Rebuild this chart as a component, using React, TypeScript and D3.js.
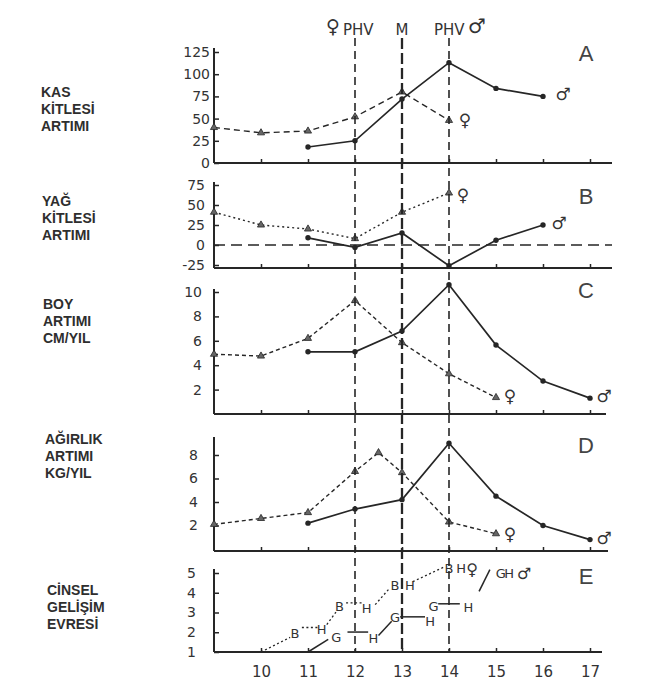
import * as d3 from 'd3';
import { useEffect, useRef } from 'react';

const WIDTH = 671;
const HEIGHT = 698;
const AXIS_X = 214;

// yaş ekseni
const AGE_DOMAIN = [9, 17];
const X_TICKS = [10, 11, 12, 13, 14, 15, 16, 17];
const MARK_AGES = [12, 13, 14]; // ♀ PHV, M, PHV ♂

// A - kas kitlesi artımı
const girlAgesA = [9, 10, 11, 12, 13, 14];
const girlMuscle = [40, 34, 36, 52, 80, 48];
const boyAgesA = [11, 12, 13, 14, 15, 16];
const boyMuscle = [18, 25, 72, 113, 84, 75];

// B - yağ kitlesi artımı
const girlAgesB = [9, 10, 11, 12, 13, 14];
const girlFat = [41, 25, 20, 8, 41, 65];
const boyAgesB = [11, 12, 13, 14, 15, 16];
const boyFat = [9, -3, 15, -26, 6, 25];

// C - boy artımı cm/yıl
const girlAgesC = [9, 10, 11, 12, 13, 14, 15];
const girlHeight = [4.9, 4.75, 6.2, 9.3, 5.85, 3.3, 1.35];
const boyAgesC = [11, 12, 13, 14, 15, 16, 17];
const boyHeight = [5.1, 5.1, 6.8, 10.6, 5.65, 2.7, 1.3];

// D - ağırlık artımı kg/yıl
const girlAgesD = [9, 10, 11, 12, 12.5, 13, 14, 15];
const girlWeight = [2.1, 2.6, 3.1, 6.6, 8.2, 6.5, 2.3, 1.3];
const boyAgesD = [11, 12, 13, 14, 15, 16, 17];
const boyWeight = [2.2, 3.4, 4.2, 9.0, 4.5, 2.0, 0.8];

// E - cinsel gelişim evresi
const girlStageLetters = ['B', 'H', 'B', 'H', 'B', 'H', 'B', 'H'];
const girlStageAges = [10.72, 11.29, 11.67, 12.25, 12.85, 13.17, 14.0, 14.26];
const girlStageLevels = [1.95, 2.15, 3.3, 3.2, 4.4, 4.4, 5.25, 5.25];
const girlStageLinks = [
  [[10, 1], [10.62, 1.74]],
  [[10.87, 2.24], [11.2, 2.24]],
  [[11.4, 2.39], [11.61, 3.07]],
  [[11.81, 3.49], [12.19, 3.49]],
  [[12.43, 3.4], [12.74, 4.24]],
  [[13.23, 4.56], [13.91, 5.32]],
];
const boyStageLetters = ['G', 'H', 'G', 'H', 'G', 'H', 'G', 'H'];
const boyStageAges = [11.6, 12.39, 12.85, 13.6, 13.67, 14.41, 15.1, 15.28];
const boyStageLevels = [1.73, 1.68, 2.78, 2.56, 3.32, 3.24, 5.0, 5.0];
const boyStageLinks = [
  [[11, 1], [11.43, 1.64]],
  [[11.84, 2.01], [12.28, 2.01]],
  [[12.5, 1.84], [12.78, 2.56]],
  [[12.96, 2.78], [13.49, 2.78]],
  [[13.77, 3.44], [14.23, 3.44]],
  [[14.64, 4.07], [14.87, 5.17]],
];

const INK = '#262626';
const NUM_FONT = '"DejaVu Sans", sans-serif';

const PANELS = [
  {
    id: 'A', title: ['KAS', 'KİTLESİ', 'ARTIMI'], titleX: 41, titleY: 97,
    domain: [0, 125], range: [163, 52], ticks: [0, 25, 50, 75, 100, 125],
    top: 48, bottom: 163, right: 612, pad: 4, letterY: 61, dash: '6,4',
    girl: [girlAgesA, girlMuscle], boy: [boyAgesA, boyMuscle],
    girlSign: [16, 6], boySign: [20, 4],
  },
  {
    id: 'B', title: ['YAĞ', 'KİTLESİ', 'ARTIMI'], titleX: 42, titleY: 206,
    domain: [-25, 75], range: [265, 185], ticks: [-25, 0, 25, 50, 75],
    top: 182, bottom: 268, right: 612, pad: 9, letterY: 204, dash: '2,3',
    girl: [girlAgesB, girlFat], boy: [boyAgesB, boyFat],
    girlSign: [14, 8], boySign: [16, 4], zeroLine: true,
  },
  {
    id: 'C', title: ['BOY', 'ARTIMI', 'CM/YIL'], titleX: 43, titleY: 309,
    domain: [0, 10], range: [414, 292], ticks: [2, 4, 6, 8, 10],
    top: 289, bottom: 414, right: 606, pad: 12, letterY: 298, dash: '4,3',
    girl: [girlAgesC, girlHeight], boy: [boyAgesC, boyHeight],
    girlSign: [14, 4], boySign: [14, 4],
  },
  {
    id: 'D', title: ['AĞIRLIK', 'ARTIMI', 'KG/YIL'], titleX: 45, titleY: 444,
    domain: [0, 8], range: [549, 455], ticks: [2, 4, 6, 8],
    top: 437, bottom: 551, right: 608, pad: 16, letterY: 453, dash: '4,3',
    girl: [girlAgesD, girlWeight], boy: [boyAgesD, boyWeight],
    girlSign: [14, 6], boySign: [14, 4],
  },
];

const ScurveChart = () => {
  const svgRef = useRef<SVGSVGElement>(null);

  useEffect(() => {
    const svg = d3.select(svgRef.current);
    svg.selectAll('*').remove();

    const x = d3.scaleLinear().domain(AGE_DOMAIN).range([AXIS_X, 590]);

    const drawAxes = (g, y, p, withLabels) => {
      const yAxis = d3.axisLeft(y).tickValues(p.ticks).tickSizeInner(-5).tickSizeOuter(0).tickPadding(p.pad)
        .tickFormat(d => String(d));
      const gy = g.append('g').attr('transform', `translate(${AXIS_X},0)`).call(yAxis);
      gy.select('.domain').remove();
      gy.selectAll('line').attr('stroke', INK).attr('stroke-width', 1.5);
      gy.selectAll('text').attr('font-family', NUM_FONT).attr('font-size', 14).attr('fill', '#333');

      const xAxis = d3.axisBottom(x).tickValues(X_TICKS).tickSizeInner(-4).tickSizeOuter(0).tickPadding(14)
        .tickFormat(withLabels ? d => String(d) : () => '');
      const gx = g.append('g').attr('transform', `translate(0,${p.bottom})`).call(xAxis);
      gx.select('.domain').remove();
      gx.selectAll('line').attr('stroke', INK).attr('stroke-width', 1.5);
      gx.selectAll('text').attr('font-family', NUM_FONT).attr('font-size', 15).attr('fill', '#333');

      g.append('line').attr('x1', AXIS_X).attr('x2', AXIS_X).attr('y1', p.top).attr('y2', p.bottom)
        .attr('stroke', INK).attr('stroke-width', 2);
      g.append('line').attr('x1', AXIS_X).attr('x2', p.right).attr('y1', p.bottom).attr('y2', p.bottom)
        .attr('stroke', INK).attr('stroke-width', 2);
    };

    const drawTitle = (lines, tx, ty, letter, letterY) => {
      svg.append('g').selectAll('text').data(lines).join('text')
        .attr('x', tx).attr('y', (_, i) => ty + i * 17)
        .attr('font-family', '"Liberation Sans", Arial, sans-serif').attr('font-weight', 'bold')
        .attr('font-size', 14).attr('fill', '#2e2e2e').text(d => d);
      svg.append('text').attr('x', 586).attr('y', letterY).attr('text-anchor', 'middle')
        .attr('font-family', '"Liberation Sans", Arial, sans-serif').attr('font-size', 22)
        .attr('fill', '#444').text(letter);
    };

    PANELS.forEach(p => {
      const y = d3.scaleLinear().domain(p.domain).range(p.range);
      const g = svg.append('g');
      drawAxes(g, y, p, false);
      drawTitle(p.title, p.titleX, p.titleY, p.id, p.letterY);

      if (p.zeroLine) {
        g.append('line').attr('x1', AXIS_X).attr('x2', p.right).attr('y1', y(0)).attr('y2', y(0))
          .attr('stroke', INK).attr('stroke-width', 1.6).attr('stroke-dasharray', '11,6');
      }

      const girlPts = p.girl[0].map((a, i) => [a, p.girl[1][i]]);
      const boyPts = p.boy[0].map((a, i) => [a, p.boy[1][i]]);
      const line = d3.line().x(d => x(d[0])).y(d => y(d[1]));

      g.append('path').attr('d', line(girlPts)).attr('fill', 'none').attr('stroke', INK)
        .attr('stroke-width', 1.4).attr('stroke-dasharray', p.dash);
      g.append('path').attr('d', line(boyPts)).attr('fill', 'none').attr('stroke', INK)
        .attr('stroke-width', 1.7);

      g.selectAll('.tri').data(girlPts).join('path')
        .attr('d', d3.symbol(d3.symbolTriangle, 22)())
        .attr('transform', d => `translate(${x(d[0])},${y(d[1])})`)
        .attr('fill', '#666').attr('stroke', INK).attr('stroke-width', 0.8);
      g.selectAll('.dot').data(boyPts).join('circle')
        .attr('cx', d => x(d[0])).attr('cy', d => y(d[1])).attr('r', 2.7).attr('fill', INK);

      const lg = girlPts[girlPts.length - 1];
      const lb = boyPts[boyPts.length - 1];
      g.append('text').attr('x', x(lg[0]) + p.girlSign[0]).attr('y', y(lg[1]) + p.girlSign[1])
        .attr('font-family', NUM_FONT).attr('font-size', 17).attr('fill', '#333').attr('text-anchor', 'middle').text('♀');
      g.append('text').attr('x', x(lb[0]) + p.boySign[0]).attr('y', y(lb[1]) + p.boySign[1])
        .attr('font-family', NUM_FONT).attr('font-size', 17).attr('fill', '#333').attr('text-anchor', 'middle').text('♂');
    });

    // E panel
    const pE = { top: 569, bottom: 652, right: 602, pad: 18, ticks: [1, 2, 3, 4, 5] };
    const yE = d3.scaleLinear().domain([1, 5]).range([652, 573]);
    const gE = svg.append('g');
    drawAxes(gE, yE, pE, true);
    drawTitle(['CİNSEL', 'GELİŞİM', 'EVRESİ'], 47, 595, 'E', 584);

    const segLine = d3.line().x(d => x(d[0])).y(d => yE(d[1]));
    gE.selectAll('.gl').data(girlStageLinks).join('path').attr('d', d => segLine(d))
      .attr('fill', 'none').attr('stroke', INK).attr('stroke-width', 1.3).attr('stroke-dasharray', '2,2.5');
    gE.selectAll('.bl').data(boyStageLinks).join('path').attr('d', d => segLine(d))
      .attr('fill', 'none').attr('stroke', INK).attr('stroke-width', 1.5);

    const stageText = (letters, ages, levels) =>
      gE.append('g').selectAll('text').data(letters).join('text')
        .attr('x', (_, i) => x(ages[i])).attr('y', (_, i) => yE(levels[i])).attr('dy', '0.36em')
        .attr('text-anchor', 'middle').attr('font-family', NUM_FONT).attr('font-size', 13)
        .attr('fill', '#333').text(d => d);
    stageText(girlStageLetters, girlStageAges, girlStageLevels);
    stageText(boyStageLetters, boyStageAges, boyStageLevels);

    gE.append('text').attr('x', x(14.49)).attr('y', yE(5.2)).attr('dy', '0.36em').attr('text-anchor', 'middle')
      .attr('font-family', NUM_FONT).attr('font-size', 16).attr('fill', '#333').text('♀');
    gE.append('text').attr('x', x(15.6)).attr('y', yE(5.0)).attr('dy', '0.36em').attr('text-anchor', 'middle')
      .attr('font-family', NUM_FONT).attr('font-size', 16).attr('fill', '#333').text('♂');

    // PHV / M dikey çizgileri
    svg.append('g').selectAll('line').data(MARK_AGES).join('line')
      .attr('x1', d => x(d)).attr('x2', d => x(d)).attr('y1', 38).attr('y2', 652)
      .attr('stroke', INK)
      .attr('stroke-width', d => (d === 13 ? 2.3 : 1.6))
      .attr('stroke-dasharray', d => (d === 13 ? '11,4' : '8,5'));

    const head = svg.append('g').attr('font-family', NUM_FONT).attr('fill', '#333');
    head.append('text').attr('x', x(12) - 22).attr('y', 33).attr('font-size', 19).attr('text-anchor', 'middle').text('♀');
    head.append('text').attr('x', x(12) - 12).attr('y', 35).attr('font-size', 15).text('PHV');
    head.append('text').attr('x', x(13)).attr('y', 35).attr('font-size', 15).attr('text-anchor', 'middle').text('M');
    head.append('text').attr('x', x(14) - 15).attr('y', 35).attr('font-size', 15).text('PHV');
    head.append('text').attr('x', x(14) + 28).attr('y', 33).attr('font-size', 20).attr('text-anchor', 'middle').text('♂');
  }, []);

  return (
    <svg ref={svgRef} width={WIDTH} height={HEIGHT}
      style={{ position: 'absolute', left: 0, top: 0, background: '#fff' }} />
  );
};

export default function App() {
  return <ScurveChart />;
}
